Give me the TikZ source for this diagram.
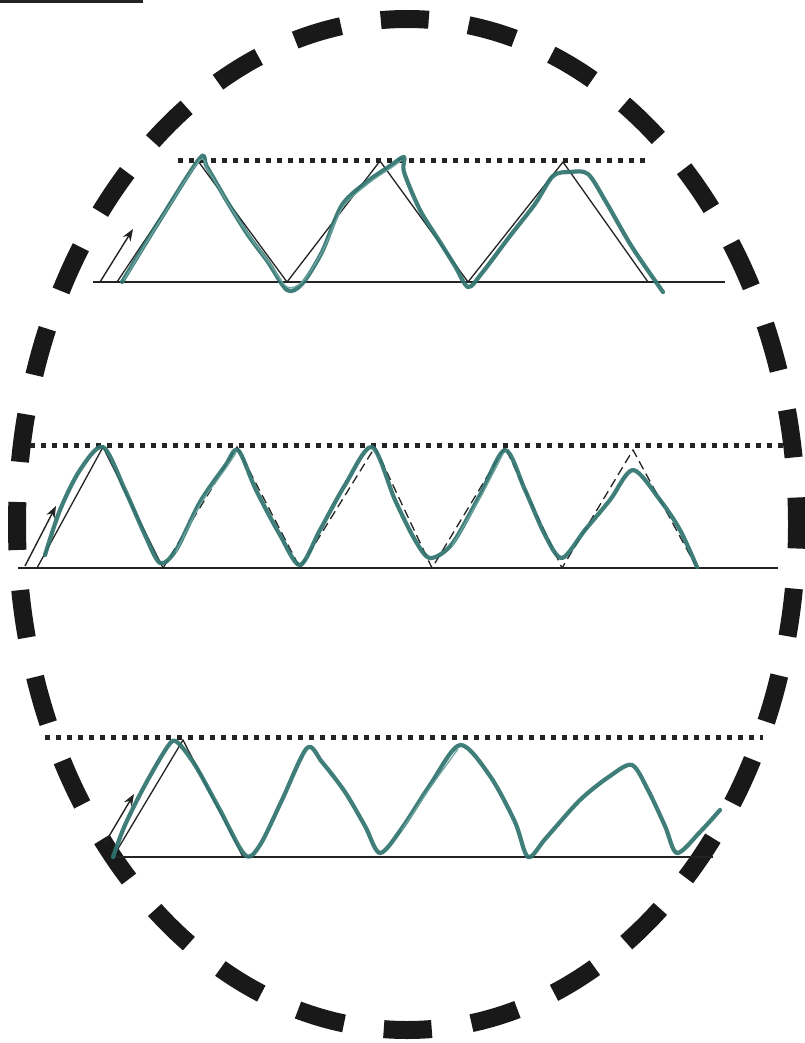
\documentclass[tikz,border=0pt]{standalone}
\usetikzlibrary{arrows.meta}
\definecolor{crayon}{RGB}{48,116,111}
\definecolor{crayonlight}{RGB}{110,165,160}
\definecolor{ink}{RGB}{35,35,35}
\tikzset{
  frame/.style={line width=18pt, black!90, dash pattern=on 48pt off 40.2pt, dash phase=24pt},
  baseline/.style={line width=2pt, ink},
  topline/.style={line width=5pt, ink, dash pattern=on 5pt off 6pt},
  zig/.style={line width=1.3pt, ink, line join=miter},
  zigdash/.style={zig, dash pattern=on 9pt off 5pt},
  pen/.style={line width=4.2pt, crayon, line cap=round, line join=round, opacity=0.92},
  penhi/.style={line width=1.2pt, crayonlight, line cap=round, line join=round},
  push/.style={line width=1.4pt, ink, -{Stealth[length=12pt,width=9pt]}}
}
\begin{document}
\begin{tikzpicture}[x=1pt,y=-1pt]
\useasboundingbox (0,0) rectangle (804,1043);
\fill[white] (0,0) rectangle (804,1043);
% corner line
\coordinate (c1) at (0,1.5); \coordinate (c2) at (143,1.5);
\draw[line width=2.5pt, ink] (c1) -- (c2);
% dashed ellipse
\coordinate (O) at (407,524.5);
\draw[frame] (O) ellipse [x radius=390, y radius=505.5];

% ---------- row 1 ----------
\coordinate (b1l) at (93,282); \coordinate (b1r) at (725,282);
\coordinate (t1l) at (178,161); \coordinate (t1r) at (645,161);
\draw[baseline] (b1l) -- (b1r);
\draw[topline] (t1l) -- (t1r);
\coordinate (p10) at (117,282); \coordinate (p11) at (198,161);
\coordinate (p12) at (287,282); \coordinate (p13) at (380,161);
\coordinate (p14) at (468,282); \coordinate (p15) at (563,162);
\coordinate (p16) at (648,282);
\draw[zig] (p10) -- (p11) -- (p12) -- (p13) -- (p14) -- (p15) -- (p16);
\coordinate (a1s) at (100,282); \coordinate (a1e) at (133,229);
\draw[push] (a1s) -- (a1e);
\draw[pen] plot[smooth, tension=0.5] coordinates {(122,282) (160,220) (200,158) (207,167) (228,203) (248,235) (268,262) (287,290) (302,284) (322,252) (342,205) (368,181) (390,166) (404,157) (404,172) (420,210) (440,242) (455,266) (468,287) (482,273) (510,236) (535,204) (553,176) (570,172) (588,174) (606,202) (632,247) (663,292)};
\draw[penhi] plot[smooth, tension=0.5] coordinates {(124,280) (161,219) (199,161) (208,170) (229,205) (250,237) (270,264) (287,287) (303,281) (323,250) (343,207) (369,183) (391,168) (402,160)};

% ---------- row 2 ----------
\coordinate (b2l) at (18,568); \coordinate (b2r) at (778,568);
\coordinate (t2l) at (30,445); \coordinate (t2r) at (783,445);
\draw[baseline] (b2l) -- (b2r);
\draw[topline] (t2l) -- (t2r);
\coordinate (q0) at (37,568);  \coordinate (q1) at (103,447);
\coordinate (q2) at (163,568); \coordinate (q3) at (237,447);
\coordinate (q4) at (300,568); \coordinate (q5) at (375,447);
\coordinate (q6) at (432,568); \coordinate (q7) at (505,447);
\coordinate (q8) at (562,568); \coordinate (q9) at (633,450);
\coordinate (q10) at (697,568);
\draw[zig] (q0) -- (q1) -- (q2);
\draw[zigdash] (q2) -- (q3) -- (q4) -- (q5) -- (q6) -- (q7) -- (q8) -- (q9) -- (q10);
\coordinate (a2s) at (25,566); \coordinate (a2e) at (56,506);
\draw[push] (a2s) -- (a2e);
\draw[pen] plot[smooth, tension=0.5] coordinates {(45,555) (60,510) (80,470) (103,447) (125,490) (145,535) (160,563) (176,550) (200,502) (225,466) (238,450) (256,490) (280,535) (300,565) (320,530) (345,485) (372,447) (395,500) (415,540) (430,558) (452,544) (480,495) (505,450) (525,490) (545,535) (562,558) (585,530) (610,500) (633,470) (660,500) (680,530) (697,567)};
\draw[penhi] plot[smooth, tension=0.5] coordinates {(176,552) (200,505) (226,468) (236,453)};
\draw[penhi] plot[smooth, tension=0.5] coordinates {(452,546) (480,498) (503,454)};

% ---------- row 3 ----------
\coordinate (b3l) at (113,857); \coordinate (b3r) at (713,857);
\coordinate (t3l) at (45,737); \coordinate (t3r) at (763,737);
\draw[baseline] (b3l) -- (b3r);
\draw[topline] (t3l) -- (t3r);
\coordinate (r0) at (113,857); \coordinate (r1) at (183,740); \coordinate (r2) at (243,857);
\draw[zig] (r0) -- (r1) -- (r2);
\coordinate (a3s) at (105,843); \coordinate (a3e) at (134,794);
\draw[push] (a3s) -- (a3e);
\draw[pen] plot[smooth, tension=0.5] coordinates {(113,857) (125,825) (145,785) (168,746) (177,742) (195,765) (220,810) (245,855) (260,845) (282,800) (307,748) (322,762) (345,792) (365,826) (380,853) (402,828) (430,785) (460,745) (490,776) (515,822) (528,857) (546,838) (580,800) (610,776) (632,765) (648,790) (665,826) (677,853) (700,832) (720,810)};
\draw[penhi] plot[smooth, tension=0.5] coordinates {(402,830) (430,788) (458,749)};
\end{tikzpicture}
\end{document}
